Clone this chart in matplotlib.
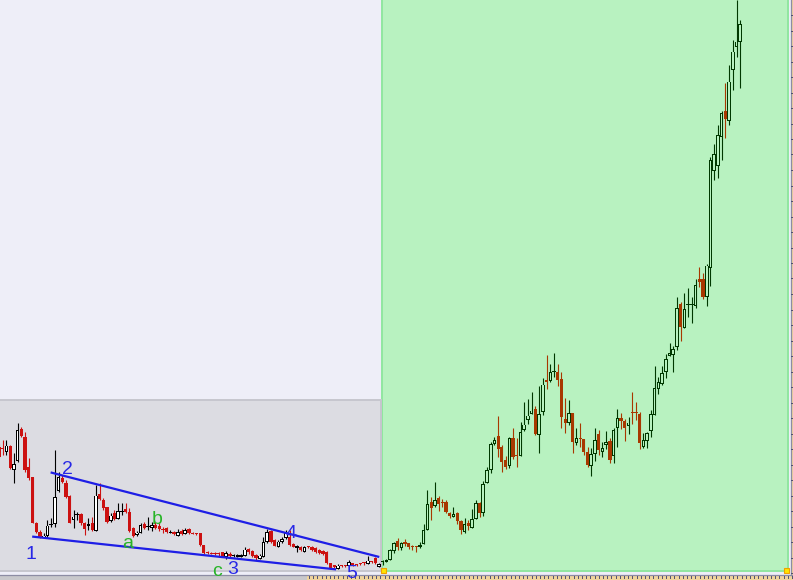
import numpy as np
import matplotlib
matplotlib.use("Agg")
import matplotlib.pyplot as plt
from matplotlib.patches import Rectangle

W, H = 793, 580

# ---- older section (grey box), OHLC ----
old_open = [133, 132, 128.3, 134, 110.7, 120, 150.7, 143.3, 113.3, 103.3,
            56.7, 48.3, 42.7, 45, 55.5, 56.7, 90, 102.3, 97.3, 84,
            60.7, 65.5, 66, 56.7, 54.7, 56.7, 50, 85.7, 80, 72.7,
            59.3, 66.7, 61.7, 68.3, 70.7, 68.3, 51.7, 45.7, 47.7, 56,
            54, 52.3, 55, 54, 50.7, 51.7, 48, 48, 45, 49.3,
            46.7, 50.7, 46.7, 46.7, 46.7, 35, 28.3, 27.3, 27.3, 26,
            28.3, 23.3, 26, 24.7, 24, 24, 25, 31, 29, 25,
            21.7, 23.3, 38.3, 49.3, 40, 33.3, 38.3, 42.7, 43.3, 35.7,
            32.3, 33.3, 28.3, 34, 33.3, 31.7, 30, 29.3, 28.3, 16.7,
            15, 11.7, 15, 15, 15, 16.7, 16, 15.7, 16.7, 16.7,
            19, 21.7, 14]
old_high = [137, 140, 140, 135, 126.7, 156.7, 153.3, 148.3, 121.7, 103.3,
            58.3, 50, 46.7, 60, 61.7, 130, 108.3, 105, 100, 85,
            70, 68.3, 66.7, 58.3, 61.7, 63.3, 95, 96.7, 81.7, 73.3,
            66.7, 70, 76.7, 76.7, 76.7, 71.7, 53.3, 49.3, 56.7, 58.3,
            63.3, 58.3, 58.3, 56.7, 53.3, 53.3, 50, 49.3, 50.7, 50.7,
            51.7, 51.7, 48.3, 47.3, 47, 35.5, 28.7, 27.7, 28, 28.3,
            28.5, 29.3, 28.3, 26, 26.5, 26.5, 33.3, 31.7, 30, 26,
            26, 42.7, 50.7, 50, 40.7, 40, 43.3, 50, 50, 36.7,
            35, 34, 34, 34.5, 34, 32.7, 30.7, 30, 28.7, 17.3,
            15.5, 16, 15.5, 15.5, 20, 17.3, 16.5, 16.7, 18, 24,
            19.5, 23.3, 17.3]
old_low = [122, 125, 125, 111, 96.7, 118.3, 143.3, 108.3, 100, 56.7,
           46.7, 41.7, 41.7, 41.7, 53.3, 53.3, 88.3, 96.7, 81.7, 56.7,
           51.7, 60, 55, 45, 50, 49.3, 49.3, 80, 70, 57.3,
           58.3, 60, 61, 65, 66.7, 48.3, 43.3, 44, 47.3, 50.7,
           50, 49.3, 50.7, 49.3, 47.3, 47.3, 46.7, 45, 44, 45,
           46, 46, 45.7, 45.5, 34, 26, 26, 25.7, 25.5, 23.3,
           23, 20.7, 21.7, 23.3, 23.5, 23.5, 24, 26, 22.7, 20,
           21.3, 22.7, 37.3, 37.3, 34, 33.3, 36.7, 40.7, 34, 32.7,
           28.3, 29.5, 28, 32, 29.3, 27.3, 26, 25, 16, 10.7,
           12, 10.7, 13.5, 13.5, 14, 14.5, 14.5, 14.7, 15.3, 16,
           17.5, 16, 13.3]
old_close = [123, 131, 135, 111.7, 116.7, 150.7, 144, 110, 101.7, 56.7,
             48.3, 43.3, 45, 55, 56, 83.3, 103.3, 98.3, 82.7, 57.3,
             64, 66, 56.7, 50.7, 56.7, 50, 85, 81, 71.7, 58.3,
             65, 60.7, 69.3, 70, 68.3, 49.3, 44.3, 48, 55.7, 52.3,
             54, 55.7, 51.7, 50.7, 50.3, 48.3, 48, 45.7, 48.3, 45.7,
             50.7, 46.7, 46.5, 46, 35, 26.7, 26.7, 26, 26, 25.8,
             23.3, 27.3, 24, 24.7, 26, 26, 31, 28.3, 24, 21.7,
             25, 38.3, 48.3, 38.3, 34.3, 39, 41.7, 47.3, 35, 33.3,
             34.3, 30, 33.3, 32.7, 30, 28.3, 27.3, 26, 16.7, 11.7,
             12.7, 15, 14, 14, 18.3, 15, 15, 15.6, 16.6, 20,
             18, 16.7, 16.7]

# ---- recent section (green box), OHLC ----
new_open = [18.3, 18.3, 20.7, 30, 39, 32.3, 37.7, 36.7, 34, 33.3,
            33.3, 36.7, 50.7, 77.7, 75, 81.7, 76.7, 78, 66.7, 64,
            66.7, 59, 48.3, 57.3, 52.3, 61.7, 76.7, 67.3, 97.3, 110.7,
            136.7, 144, 132.7, 120, 114.3, 141.7, 124, 125, 150.7, 160.7,
            166.7, 170.7, 146, 168.3, 200, 199.3, 208.3, 208.3, 200.7, 160.7,
            157.3, 167.3, 137.7, 142.3, 141, 128.3, 115, 126.7, 146, 128.3,
            135.7, 139, 124.3, 152.3, 161.7, 159, 154.3, 166.7, 166.7, 166,
            134, 140, 149.3, 166, 191.7, 196.7, 208.3, 225, 226, 234,
            276, 252.7, 276, 275.7, 274.3, 301, 301, 283.3, 312.7, 409.3,
            414.3, 443.3, 469, 459.3, 511, 533.3, 538.3]
new_high = [20, 21, 31, 38.3, 41.7, 38.3, 40.7, 37.3, 35, 34,
            38.3, 56, 90, 82.7, 98.3, 84, 80.7, 80, 68.3, 72.7,
            68.3, 60, 61.7, 60, 71, 80, 78.3, 99.3, 113.3, 138.3,
            143.3, 164, 135, 124, 143.3, 151.7, 141.7, 158.3, 178.3, 180.7,
            188.3, 174, 194, 201.7, 225, 216, 226.7, 216, 208.3, 181.7,
            180, 167.3, 151.7, 156.7, 141, 133.3, 131.7, 151.7, 150, 138.3,
            149, 141.7, 151.7, 170.7, 166.7, 160.7, 163.3, 187.7, 177.7, 168.3,
            147.3, 148.3, 170, 214, 203.3, 214, 226, 236.7, 234, 282.7,
            278.3, 286.7, 291.7, 282.7, 300.7, 312.7, 307.3, 316, 423.3, 436,
            455, 469, 497.3, 515, 540, 580, 560]
new_low = [15, 18, 20.3, 26.7, 30, 30, 34, 30.7, 30, 28.3,
           31.7, 36, 50, 60, 73.3, 69.3, 72.7, 66.7, 62.3, 62.7,
           56, 46, 47.3, 50, 51.7, 61, 63.3, 64, 96.7, 107.3,
           135, 122.7, 108.3, 110.7, 112.3, 120.7, 112.7, 124, 149.3, 156,
           166, 145, 127.3, 165, 190.7, 198.3, 202.7, 194, 152.3, 146.7,
           155, 126.7, 135, 133.3, 125, 113.3, 104.3, 119.3, 125, 123.3,
           130.7, 116.7, 116.7, 132.7, 150.7, 139, 146, 156, 160, 130.7,
           131.7, 131.7, 142.7, 165, 186, 195, 201.7, 224.3, 207.7, 230,
           239.3, 251.7, 263.3, 256.7, 271.7, 293.3, 281, 274, 294, 400,
           402.3, 420, 442.3, 455, 490, 523.3, 492.3]
new_close = [18.5, 20.7, 30.7, 37.7, 33.3, 37.7, 36, 33.3, 32.7, 33.2,
             35.7, 50.7, 76, 72.3, 80.7, 75.7, 76.6, 68, 64.3, 66.7,
             59.3, 50, 56.7, 54, 61.7, 77.7, 66.7, 96.7, 110.7, 136.7,
             140.7, 131, 118.3, 112.7, 142.7, 122.7, 123.8, 148.3, 156, 165,
             170, 146, 166.7, 196, 198.3, 208.3, 209, 200, 163.3, 156.7,
             167.3, 138.3, 142.7, 141, 128.3, 115, 126.7, 140.7, 130, 132.7,
             138.3, 120, 150.7, 162.7, 159.3, 151.7, 158, 166.6, 166.6, 137.3,
             140.7, 147.3, 166.7, 192.7, 198.3, 207.7, 221.7, 227.7, 231.7, 272.7,
             253.3, 271.7, 276.1, 276.7, 295.7, 298.3, 283.3, 315, 420.7, 426.7,
             445.7, 467.7, 461, 499, 529, 539, 556.7]

# wedge lines drawn by the user (candle index, price)
upper_x = [14.15, 101.8]
upper_y = [107.3, 23.3]
lower_x = [9.2, 90.2]
lower_y = [43.3, 10.7]

# wave labels
wave_text = ["1", "2", "a", "b", "c", "3", "4", "5"]
wave_x = [8.45, 18.5, 34.6, 42.4, 58.5, 62.6, 78.4, 94.6]
wave_y = [25.5, 110, 36, 60, 9, 10, 47, 7]

# pixel geometry of the chart window
STEP = 3.725
X0 = -1.0
PX = 1 / STEP  # one pixel in candle-index units


def pa(x, y):
    # screen pixel -> axes fraction
    return x / W, 1 - y / H


fig = plt.figure(figsize=(W / 100, H / 100), dpi=100, facecolor="#EEEEF8")
ax = fig.add_axes([0, 0, 1, 1])
ax.set_axis_off()
ax.set_xlim((0 - X0) / STEP, (W - X0) / STEP)
ax.set_ylim(0, H)

# green (recent) panel and grey (old) panel
gx, gy = pa(382, 571)
ax.add_patch(Rectangle((gx, gy), (788 - 382) / W, 1.1, transform=ax.transAxes,
                       facecolor="#B8F2C0", edgecolor="#90E6A0", lw=1.4, zorder=0))
bx, by = pa(-2, 571)
ax.add_patch(Rectangle((bx, by), (381 + 2) / W, 171 / H, transform=ax.transAxes,
                       facecolor="#DCDCE2", edgecolor="#C6C6CE", lw=1.4, zorder=0))

# rulers at bottom and right
rx, ry = pa(0, 580)
ax.add_patch(Rectangle((rx, ry), 307 / W, 4.5 / H, transform=ax.transAxes,
                       facecolor="#C8C8CC", edgecolor="none", zorder=1))
tx, ty = pa(307, 580)
ax.add_patch(Rectangle((tx, ty), (W - 307) / W, 4.5 / H, transform=ax.transAxes,
                       facecolor="#F0D49C", edgecolor="none", zorder=1))
ax.plot([0, 1], [1 - 575 / H] * 2, transform=ax.transAxes, color="#8C8CA4", lw=0.9, zorder=2)
sx, sy = pa(791, 575)
ax.add_patch(Rectangle((sx, sy), 2 / W, 575 / H, transform=ax.transAxes,
                       facecolor="#F0D49C", edgecolor="none", zorder=1))
ax.plot([790.5 / W] * 2, [1 - 575 / H, 1], transform=ax.transAxes, color="#8C8CA4", lw=0.9, zorder=2)
for px in np.arange(309, W, 4.2):
    ax.plot([px / W] * 2, [1 - 576 / H, 1 - 578 / H], transform=ax.transAxes,
            color="#505070", lw=0.7, zorder=2)
for py in np.arange(15, 575, 15.5):
    ax.plot([791 / W, 793 / W], [1 - py / H] * 2, transform=ax.transAxes,
            color="#505070", lw=0.7, zorder=2)


def draw_candles(idx, o, h, l, c, up_face, up_edge, down_col):
    o, h, l, c = map(np.asarray, (o, h, l, c))
    up = c >= o
    wick_cols = np.where(up, up_edge, down_col)
    ax.vlines(idx, l, h, colors=wick_cols, lw=0.8, zorder=3)
    bottom = np.minimum(o, c)
    height = np.abs(c - o)
    # hollow (rising) candles: dark frame, then light inside
    ax.bar(idx[up], np.maximum(height[up], 1.0), bottom=bottom[up] - 0.5,
           width=3.6 * PX, color=up_edge, lw=0, zorder=4)
    hollow = up & (height > 2.2)
    ax.bar(idx[hollow], height[hollow] - 1.6, bottom=bottom[hollow] + 0.3,
           width=1.6 * PX, color=up_face, lw=0, zorder=5)
    # falling candles: solid
    ax.bar(idx[~up], np.maximum(height[~up], 1.0), bottom=bottom[~up],
           width=3.2 * PX, color=down_col, lw=0, zorder=4)


n_old = len(old_open)
idx_old = np.arange(n_old)
idx_new = np.arange(n_old, n_old + len(new_open))
draw_candles(idx_old, old_open, old_high, old_low, old_close, "white", "black", "#CC1111")
draw_candles(idx_new, new_open, new_high, new_low, new_close, "#B8F2C0", "#003800", "#A83800")

# wedge
ax.plot(upper_x, upper_y, color="#1E1EE6", lw=1.6, zorder=6)
ax.plot(lower_x, lower_y, color="#1E1EE6", lw=1.6, zorder=6)

for t, x, y in zip(wave_text, wave_x, wave_y):
    col = "#2828E6" if t.isdigit() else "#28B428"
    ax.text(x, y, t, color=col, fontsize=14, family="Liberation Sans",
            ha="center", va="center", zorder=7)

# yellow handles
for hx in (383, 786.5):
    x, y = pa(hx - 2.5, 573)
    ax.add_patch(Rectangle((x, y), 5 / W, 5 / H, transform=ax.transAxes,
                           facecolor="#FFE400", edgecolor="#F0A000", lw=0.8, zorder=8))

fig.savefig("out.png", dpi=100, facecolor=fig.get_facecolor())
